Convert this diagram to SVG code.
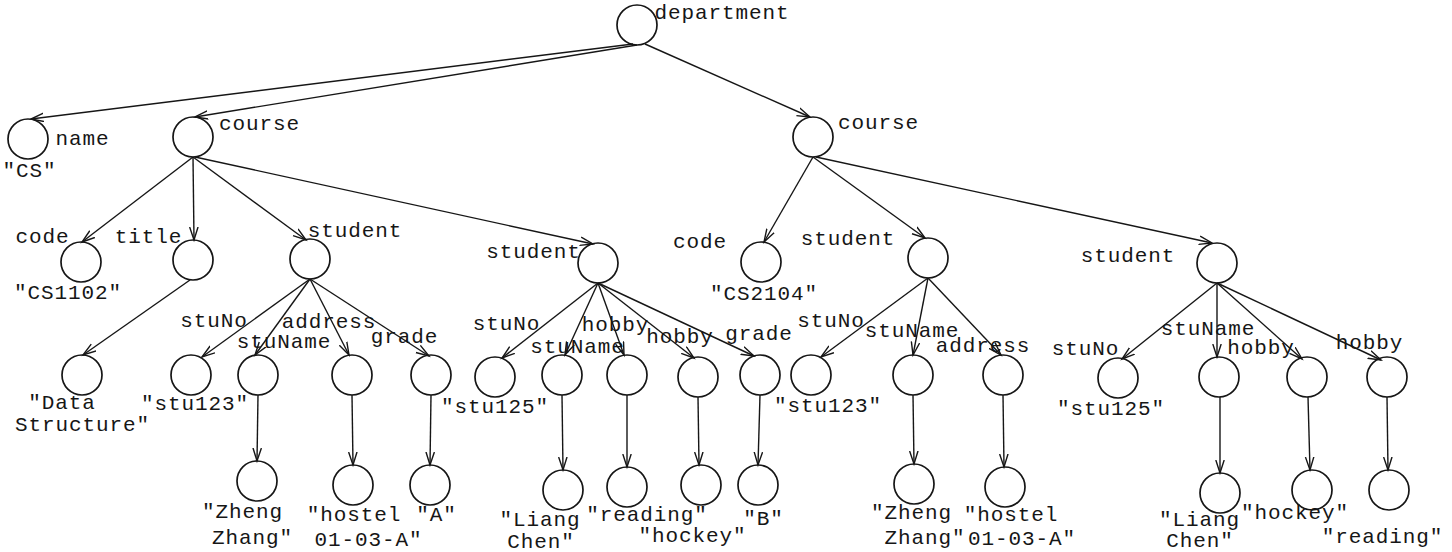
<svg xmlns="http://www.w3.org/2000/svg" width="1452" height="552" viewBox="0 0 1452 552">
  <style>
    .bg { fill: #ffffff; }
    .node circle { fill: none; stroke: #161616; stroke-width: 1.7; }
    .node text { font-family: "Liberation Mono", "DejaVu Sans Mono", monospace; font-size: 21px; letter-spacing: 0.9px; fill: #161616; text-anchor: middle; }
    .edges line { stroke: #161616; stroke-width: 1.4; fill: none; marker-end: url(#arr); }
  </style>
  <defs>
    <marker id="arr" markerWidth="16" markerHeight="12" refX="13" refY="5" orient="auto" markerUnits="userSpaceOnUse">
      <path d="M0,0.8 L13,5 L0,9.2" fill="none" stroke="#161616" stroke-width="1.4"/>
    </marker>
  </defs>
  <rect class="bg" x="0" y="0" width="1452" height="552"/>

  <!-- connectors -->
  <g id="edges" class="edges">
    <line x1="633" y1="44" x2="31" y2="119"/>
    <line x1="637" y1="45" x2="195" y2="117"/>
    <line x1="645" y1="44" x2="810" y2="117"/>

    <line x1="193" y1="157" x2="82" y2="242"/>
    <line x1="193" y1="157" x2="194" y2="240"/>
    <line x1="193" y1="157" x2="306" y2="240"/>
    <line x1="195" y1="157" x2="593" y2="244"/>
    <line x1="190" y1="280" x2="83" y2="355"/>

    <line x1="310" y1="279" x2="202" y2="357"/>
    <line x1="310" y1="279" x2="255" y2="355"/>
    <line x1="310" y1="279" x2="349" y2="355"/>
    <line x1="310" y1="279" x2="429" y2="356"/>
    <line x1="258" y1="395" x2="257" y2="461"/>
    <line x1="352" y1="395" x2="353" y2="465"/>
    <line x1="431" y1="395" x2="430" y2="465"/>

    <line x1="598" y1="283" x2="502" y2="358"/>
    <line x1="598" y1="283" x2="565" y2="355"/>
    <line x1="598" y1="283" x2="624" y2="355"/>
    <line x1="598" y1="283" x2="694" y2="358"/>
    <line x1="598" y1="283" x2="754" y2="356"/>
    <line x1="562" y1="395" x2="563" y2="470"/>
    <line x1="627" y1="395" x2="627" y2="467"/>
    <line x1="698" y1="397" x2="699" y2="465"/>
    <line x1="760" y1="395" x2="758" y2="465"/>

    <line x1="813" y1="157" x2="764" y2="242"/>
    <line x1="813" y1="157" x2="925" y2="238"/>
    <line x1="816" y1="157" x2="1212" y2="243"/>

    <line x1="928" y1="278" x2="821" y2="357"/>
    <line x1="928" y1="278" x2="913" y2="355"/>
    <line x1="928" y1="278" x2="1001" y2="355"/>
    <line x1="913" y1="395" x2="914" y2="464"/>
    <line x1="1003" y1="395" x2="1004" y2="467"/>

    <line x1="1217" y1="283" x2="1122" y2="359"/>
    <line x1="1217" y1="283" x2="1217" y2="357"/>
    <line x1="1217" y1="283" x2="1302" y2="359"/>
    <line x1="1217" y1="283" x2="1381" y2="360"/>
    <line x1="1220" y1="397" x2="1220" y2="473"/>
    <line x1="1308" y1="397" x2="1310" y2="470"/>
    <line x1="1387" y1="397" x2="1388" y2="470"/>
  </g>

  <!-- root -->
  <g id="n-department" class="node">
    <circle cx="637" cy="25" r="20"/>
    <text x="722" y="19">department</text>
  </g>

  <!-- top level -->
  <g id="n-name" class="node">
    <circle cx="28" cy="139" r="20"/>
    <text x="82.5" y="145">name</text>
    <text x="29.5" y="177">"CS"</text>
  </g>
  <g id="n-course1" class="node">
    <circle cx="193" cy="137" r="20"/>
    <text x="259.5" y="130">course</text>
  </g>
  <g id="n-course2" class="node">
    <circle cx="813" cy="137" r="20"/>
    <text x="878.5" y="129">course</text>
  </g>

  <!-- first course -->
  <g id="n-code1" class="node">
    <circle cx="81" cy="262" r="20"/>
    <text x="42.5" y="243">code</text>
    <text x="68" y="299">"CS1102"</text>
  </g>
  <g id="n-title" class="node">
    <circle cx="193" cy="260" r="20"/>
    <text x="148.5" y="243">title</text>
  </g>
  <g id="n-data" class="node">
    <circle cx="82" cy="375" r="20"/>
    <text x="62" y="409">"Data</text>
    <text x="82.5" y="431">Structure"</text>
  </g>
  <g id="n-student1" class="node">
    <circle cx="310" cy="259" r="20"/>
    <text x="355" y="237">student</text>
  </g>
  <g id="n-stuNo1" class="node">
    <circle cx="191" cy="375" r="20"/>
    <text x="214" y="327">stuNo</text>
    <text x="195" y="410">"stu123"</text>
  </g>
  <g id="n-stuName1" class="node">
    <circle cx="258" cy="375" r="20"/>
    <text x="284" y="348">stuName</text>
  </g>
  <g id="n-zheng1" class="node">
    <circle cx="257" cy="481" r="20"/>
    <text x="242.5" y="518">"Zheng</text>
    <text x="252.5" y="544">Zhang"</text>
  </g>
  <g id="n-address1" class="node">
    <circle cx="352" cy="375" r="20"/>
    <text x="329" y="328">address</text>
  </g>
  <g id="n-hostel1" class="node">
    <circle cx="353" cy="485" r="20"/>
    <text x="354" y="521">"hostel</text>
    <text x="368.5" y="546">01-03-A"</text>
  </g>
  <g id="n-grade1" class="node">
    <circle cx="431" cy="375" r="20"/>
    <text x="404.5" y="343">grade</text>
  </g>
  <g id="n-a" class="node">
    <circle cx="430" cy="485" r="20"/>
    <text x="436.5" y="521">"A"</text>
  </g>

  <g id="n-student2" class="node">
    <circle cx="598" cy="263" r="20"/>
    <text x="533.5" y="258">student</text>
  </g>
  <g id="n-stuNo2" class="node">
    <circle cx="495" cy="377" r="20"/>
    <text x="506.5" y="330">stuNo</text>
    <text x="495" y="413">"stu125"</text>
  </g>
  <g id="n-stuName2" class="node">
    <circle cx="562" cy="375" r="20"/>
    <text x="577.5" y="353">stuName</text>
  </g>
  <g id="n-liang2" class="node">
    <circle cx="563" cy="490" r="20"/>
    <text x="540" y="526">"Liang</text>
    <text x="541" y="548">Chen"</text>
  </g>
  <g id="n-hobby2a" class="node">
    <circle cx="627" cy="375" r="20"/>
    <text x="615.5" y="331">hobby</text>
  </g>
  <g id="n-reading2" class="node">
    <circle cx="627" cy="487" r="20"/>
    <text x="647" y="521">"reading"</text>
  </g>
  <g id="n-hobby2b" class="node">
    <circle cx="698" cy="377" r="20"/>
    <text x="680" y="343">hobby</text>
  </g>
  <g id="n-hockey2" class="node">
    <circle cx="701" cy="485" r="20"/>
    <text x="692.5" y="542">"hockey"</text>
  </g>
  <g id="n-grade2" class="node">
    <circle cx="760" cy="375" r="20"/>
    <text x="759" y="340">grade</text>
  </g>
  <g id="n-b" class="node">
    <circle cx="758" cy="485" r="20"/>
    <text x="763.5" y="525">"B"</text>
  </g>

  <!-- second course -->
  <g id="n-code2" class="node">
    <circle cx="761" cy="262" r="20"/>
    <text x="700" y="248">code</text>
    <text x="764" y="300">"CS2104"</text>
  </g>
  <g id="n-student3" class="node">
    <circle cx="928" cy="258" r="20"/>
    <text x="848" y="245">student</text>
  </g>
  <g id="n-stuNo3" class="node">
    <circle cx="811" cy="375" r="20"/>
    <text x="831" y="327">stuNo</text>
    <text x="828" y="412">"stu123"</text>
  </g>
  <g id="n-stuName3" class="node">
    <circle cx="913" cy="375" r="20"/>
    <text x="912" y="337">stuName</text>
  </g>
  <g id="n-zheng3" class="node">
    <circle cx="914" cy="484" r="20"/>
    <text x="911.5" y="519">"Zheng</text>
    <text x="925" y="544">Zhang"</text>
  </g>
  <g id="n-address3" class="node">
    <circle cx="1003" cy="375" r="20"/>
    <text x="983" y="352">address</text>
  </g>
  <g id="n-hostel3" class="node">
    <circle cx="1005" cy="487" r="20"/>
    <text x="1011" y="521">"hostel</text>
    <text x="1022" y="545">01-03-A"</text>
  </g>

  <g id="n-student4" class="node">
    <circle cx="1217" cy="263" r="20"/>
    <text x="1128" y="262">student</text>
  </g>
  <g id="n-stuNo4" class="node">
    <circle cx="1118" cy="378" r="20"/>
    <text x="1085.5" y="355">stuNo</text>
    <text x="1111" y="415">"stu125"</text>
  </g>
  <g id="n-stuName4" class="node">
    <circle cx="1219" cy="377" r="20"/>
    <text x="1208" y="335">stuName</text>
  </g>
  <g id="n-liang4" class="node">
    <circle cx="1220" cy="493" r="20"/>
    <text x="1199.5" y="526">"Liang</text>
    <text x="1200" y="547">Chen"</text>
  </g>
  <g id="n-hobby4a" class="node">
    <circle cx="1307" cy="377" r="20"/>
    <text x="1261" y="354">hobby</text>
  </g>
  <g id="n-hockey4" class="node">
    <circle cx="1312" cy="490" r="20"/>
    <text x="1295" y="519">"hockey"</text>
  </g>
  <g id="n-hobby4b" class="node">
    <circle cx="1387" cy="377" r="20"/>
    <text x="1369.5" y="349">hobby</text>
  </g>
  <g id="n-reading4" class="node">
    <circle cx="1389" cy="490" r="20"/>
    <text x="1382.5" y="543">"reading"</text>
  </g>
</svg>
